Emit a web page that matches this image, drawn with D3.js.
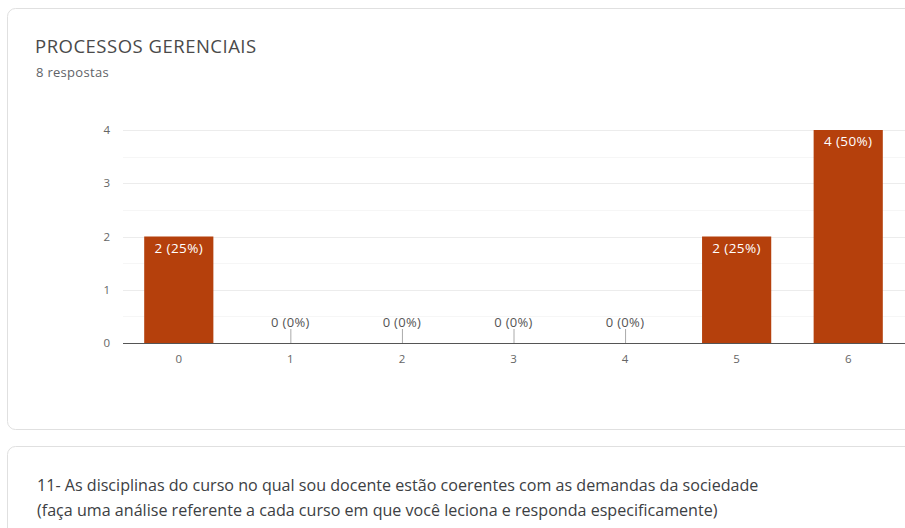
<!DOCTYPE html>
<html><head><meta charset="utf-8">
<script src="https://cdn.jsdelivr.net/npm/d3@7"></script>
<style>
html,body{margin:0;padding:0;background:#fff;}
svg{display:block;font-family:"Open Sans","Noto Sans",Arial,sans-serif;}
</style></head>
<body>
<script>
const title = "PROCESSOS GERENCIAIS";
const subtitle = "8 respostas";
const categories = ["0","1","2","3","4","5","6"];
const counts = [2,0,0,0,0,2,4];
const percents = ["25%","0%","0%","0%","0%","25%","50%"];
const yTicks = [0,1,2,3,4];
const yMinorTicks = [0.5,1.5,2.5,3.5];
const nextQuestion = [
  "11- As disciplinas do curso no qual sou docente estão coerentes com as demandas da sociedade",
  "(faça uma análise referente a cada curso em que você leciona e responda especificamente)"
];

const W = 905, H = 528;
const svg = d3.select("body").append("svg").attr("width", W).attr("height", H);

svg.append("rect").attr("x",7.5).attr("y",8.5).attr("width",920).attr("height",421)
  .attr("rx",8).attr("fill","#fff").attr("stroke","#e0e0e0");
svg.append("rect").attr("x",7.5).attr("y",446.5).attr("width",920).attr("height",120)
  .attr("rx",8).attr("fill","#fff").attr("stroke","#e0e0e0");

svg.append("text").attr("x",35).attr("y",53).attr("font-size",18.5).attr("letter-spacing",0.5)
  .attr("fill","#4a4a4a").text(title);
svg.append("text").attr("x",36).attr("y",77).attr("font-size",13).attr("letter-spacing",0.3)
  .attr("fill","#5f6368").text(subtitle);

const x = d3.scaleBand().domain(categories).range([123,904]).paddingInner(0.38).paddingOuter(0.19);
const y = d3.scaleLinear().domain([0,4]).range([343,130]);

const g = svg.append("g");
g.selectAll("line.minor").data(yMinorTicks).join("line")
  .attr("x1",123).attr("x2",905).attr("y1",d=>Math.round(y(d))+0.5).attr("y2",d=>Math.round(y(d))+0.5)
  .attr("stroke","#f6f6f6");
g.selectAll("line.major").data(yTicks.filter(d=>d>0)).join("line")
  .attr("x1",123).attr("x2",905).attr("y1",d=>Math.round(y(d))+0.5).attr("y2",d=>Math.round(y(d))+0.5)
  .attr("stroke","#ececec");

const yAxis = d3.axisLeft(y).tickValues(yTicks).tickSize(0).tickPadding(0).tickFormat(d3.format("d"));
const ya = svg.append("g").attr("transform","translate(110,0)").call(yAxis);
ya.select(".domain").remove();
ya.selectAll("text").attr("font-size",11.5).attr("fill","#666").attr("font-family","'Open Sans',Arial,sans-serif");

const data = categories.map((c,i)=>({c, v:counts[i], p:percents[i]}));
svg.selectAll("rect.bar").data(data.filter(d=>d.v>0)).join("rect")
  .attr("x",d=>x(d.c)).attr("width",x.bandwidth())
  .attr("y",d=>y(d.v)).attr("height",d=>y(0)-y(d.v))
  .attr("fill","#b5400c");

svg.append("line").attr("x1",123).attr("x2",905).attr("y1",y(0)+0.5).attr("y2",y(0)+0.5)
  .attr("stroke","#555").attr("stroke-width",1.2);

const xAxis = d3.axisBottom(x).tickSize(0).tickPadding(12);
const xa = svg.append("g").attr("transform",`translate(0,${y(0)})`).call(xAxis);
xa.select(".domain").remove();
xa.selectAll("text").attr("font-size",11.5).attr("fill","#666").attr("font-family","'Open Sans',Arial,sans-serif");

svg.selectAll("text.in").data(data.filter(d=>d.v>0)).join("text")
  .attr("x",d=>x(d.c)+x.bandwidth()/2).attr("y",d=>y(d.v)+16)
  .attr("text-anchor","middle").attr("font-size",13.5).attr("letter-spacing",0.4).attr("fill","#fff")
  .text(d=>`${d.v} (${d.p})`);

const zeros = data.filter(d=>d.v===0);
svg.selectAll("line.stem").data(zeros).join("line")
  .attr("x1",d=>x(d.c)+x.bandwidth()/2+0.5).attr("x2",d=>x(d.c)+x.bandwidth()/2+0.5)
  .attr("y1",y(0)-14).attr("y2",y(0)).attr("stroke","#aaa");
svg.selectAll("text.zero").data(zeros).join("text")
  .attr("x",d=>x(d.c)+x.bandwidth()/2).attr("y",y(0)-16)
  .attr("text-anchor","middle").attr("font-size",13).attr("letter-spacing",0.3).attr("fill","#555")
  .text(d=>`${d.v} (${d.p})`);

svg.selectAll("text.q").data(nextQuestion).join("text")
  .attr("x",37).attr("y",(d,i)=>491+i*25).attr("font-size",16.1).attr("fill","#3c4043")
  .text(d=>d);
</script>
</body></html>
